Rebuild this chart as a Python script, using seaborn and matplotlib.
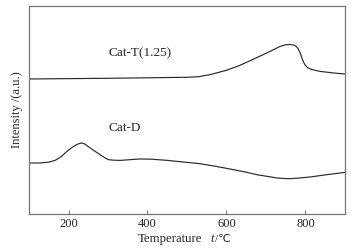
import matplotlib
matplotlib.use("Agg")
import matplotlib.pyplot as plt
import seaborn as sns
import pandas as pd

sns.set_theme(style="white")
plt.rcParams['font.family'] = ['Liberation Serif', 'DejaVu Sans']

# Cat-T(1.25) trace
t_temp = [100, 300, 500, 530, 560, 600, 630, 660, 702, 736, 750, 760, 770, 777, 782, 787,
          791, 795, 799, 805, 812, 825, 837, 871, 900]
t_int = [135, 135.7, 136.7, 137.3, 139.5, 143.7, 148, 153.3, 161, 167.6, 169.2, 169.5, 169, 167.5,
         164.8, 160.5, 156, 152, 149, 146.5, 145, 143.6, 142.6, 141, 140]

# Cat-D trace
d_temp = [100, 128, 150, 166, 182, 196, 207, 217, 226, 234, 242, 255, 268, 280, 292, 301,
          315, 331, 355, 381, 410, 450, 500, 533, 575, 618, 650, 677, 705, 728, 745, 761,
          785, 812, 854, 900]
d_int = [51, 51, 51.8, 53.6, 57.5, 62.6, 66, 68.6, 70.3, 71, 69.8, 66, 62.5, 59.3, 56.2, 54.3,
         53.8, 53.6, 54.3, 55, 54.8, 53.6, 51.6, 50.3, 47.5, 44.3, 41.8, 39.3, 37.5, 36, 35.5, 35.3,
         36, 37, 39.3, 41.6]

labels = ["Cat-T(1.25)", "Cat-D"]
xticks = [200, 400, 600, 800]

df = pd.concat([
    pd.DataFrame({"T": t_temp, "I": t_int, "s": labels[0]}),
    pd.DataFrame({"T": d_temp, "I": d_int, "s": labels[1]}),
])

fig = plt.figure(figsize=(3.56, 2.49), dpi=100)
ax = fig.add_axes([0.0815, 0.1406, 0.8875, 0.8354])
sns.lineplot(data=df, x="T", y="I", units="s", estimator=None, color="#2a2a2a",
             linewidth=0.85, ax=ax, sort=False)

ax.set_xlim(100, 900)
ax.set_ylim(0, 208)
ax.set_xticks(xticks)
ax.set_xticklabels([str(v) for v in xticks], fontsize=9)
ax.set_yticks([])
ax.tick_params(axis='x', direction='in', length=3, width=0.8, color="#777777", pad=3,
               bottom=True)
for sp in ax.spines.values():
    sp.set_color("#777777")
    sp.set_linewidth(0.9)

ax.text(300, 161, labels[0], fontsize=9.5, ha='left', va='center')
ax.text(300, 86, labels[1], fontsize=9.5, ha='left', va='center')

ax.set_xlabel("")
ax.set_ylabel("Intensity /(a.u.)", fontsize=9, labelpad=4)

# x axis label: "Temperature    t /℃" with italic t
W, H = 356.0, 249.0
fig.text(138 / W, 1 - 239 / H, "Temperature", fontsize=9.2, ha='left', va='center')
fig.text(210 / W, 1 - 239 / H, "t", fontsize=9.2, style='italic', ha='left', va='center')
fig.text(215 / W, 1 - 239 / H, "/\u2103", fontsize=8, ha='left', va='center',
         family=['Liberation Serif', 'DejaVu Sans'])

fig.savefig("out.png", dpi=100)
